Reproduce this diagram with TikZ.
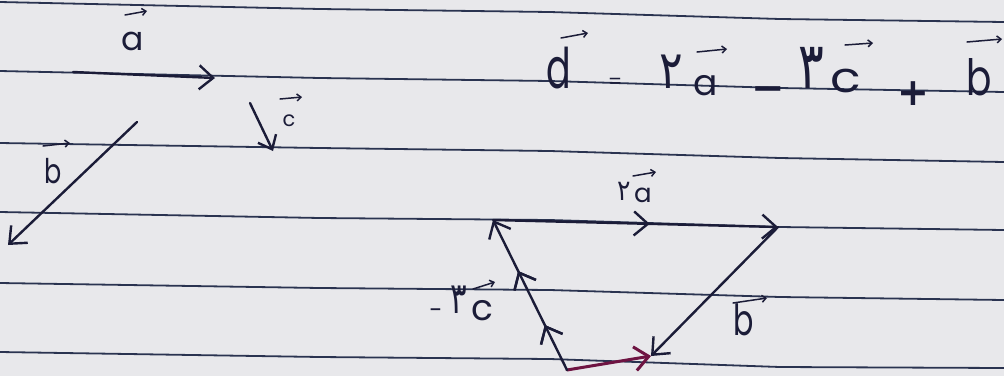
\documentclass[tikz,border=0pt]{standalone}
\usepackage{fontspec}
\usetikzlibrary{arrows.meta,decorations.markings}
\newfontfamily\hand{Poppins}
\newfontfamily\fadig[Script=Arabic]{DejaVu Sans}
\newfontfamily\djs{DejaVu Sans}
\newcommand\hsz[1]{\hand\fontsize{#1}{#1}\selectfont}
\newcommand\fsz[1]{\fadig\fontsize{#1}{#1}\selectfont}
\definecolor{paper}{HTML}{E8E8EB}
\definecolor{inkc}{HTML}{1B1C38}
\definecolor{rulec}{HTML}{2A3350}
\definecolor{redc}{HTML}{6E1442}
\tikzset{
  rule/.style={draw=rulec, line width=1.8pt, line join=round},
  ink/.style={draw=inkc, line width=2.4pt, line cap=round, line join=round},
  vecarr/.style={ink, -{Straight Barb[length=14pt,width=24pt]}},
  ovl/.style={draw=inkc, line width=1.5pt, line cap=round, -{Straight Barb[length=4pt,width=7pt]}},
  glyph/.style={anchor=base, inner sep=0pt, text=inkc},
  midhead/.style={postaction={decorate}, decoration={markings,
    mark=at position #1 with {\arrow{Straight Barb[length=14pt,width=24pt]}}}}
}
\begin{document}
\begin{tikzpicture}[x=1pt,y=-1pt]
\fill[paper] (0,0) rectangle (1004,376);
\useasboundingbox (0,0) rectangle (1004,376);
% ruled lines
\draw[rule] (0,2) -- (320,9) -- (550,12) -- (780,19) -- (1004,22);
\draw[rule] (0,71) -- (320,78) -- (550,81) -- (780,88) -- (1004,92);
\draw[rule] (0,143) -- (320,148) -- (550,151) -- (780,158) -- (1004,162);
\draw[rule] (0,212) -- (320,218) -- (550,220) -- (780,227) -- (1004,230);
\draw[rule] (0,283) -- (320,288) -- (550,290) -- (780,297) -- (1004,300);
\draw[rule] (0,352) -- (320,357) -- (550,359) -- (780,367) -- (1004,368);

% --- the three given vectors ---
\coordinate (a0) at (73,72);   \coordinate (a1) at (215,78);
\coordinate (b0) at (137,122); \coordinate (b1) at (8,245);
\coordinate (c0) at (250,103); \coordinate (c1) at (273,151);
\draw[vecarr] (a0) -- (a1);
\draw[vecarr] (b0) -- (b1);
\draw[ink, -{Straight Barb[length=12pt,width=20pt]}] (c0) -- (c1);

\node[glyph, font=\hsz{33}] (la) at (133,50) {a};
\coordinate (la0) at (125,15); \coordinate (la1) at (147,11);
\draw[ovl] (la0) -- (la1);
\node[glyph, font=\hsz{21}] (lc) at (289,126) {c};
\coordinate (lc0) at (280,99); \coordinate (lc1) at (302,97);
\draw[ovl] (lc0) -- (lc1);
\node[glyph, font=\hsz{34}] (lb) at (53,183) {\scalebox{0.75}[1]{b}};
\coordinate (lb0) at (43,146); \coordinate (lb1) at (70,143);
\draw[ovl] (lb0) -- (lb1);

% --- equation ---
\node[glyph, font=\hsz{56}] (ed) at (559,88) {\scalebox{0.65}[1]{d}};
\coordinate (ed0) at (561,38); \coordinate (ed1) at (588,33);
\draw[ovl] (ed0) -- (ed1);
\node[glyph, font=\hsz{20}] (eq) at (615,88) {=};
\node[glyph, font=\fsz{44}] (e2) at (671,88) {\scalebox{1}[1.2]{۲}};
\node[glyph, font=\hsz{36}] (ea) at (706,95) {a};
\coordinate (ea0) at (697,52); \coordinate (ea1) at (727,49);
\draw[ovl] (ea0) -- (ea1);
\node[glyph, font={\djs\bfseries\fontsize{40}{40}\selectfont}] (emin) at (768,101) {−};
\node[glyph, font=\fsz{48}] (e3) at (811,88) {\scalebox{1}[1.35]{۳}};
\node[glyph, font=\hsz{42}] (ec) at (846,92) {\scalebox{1.2}[1]{c}};
\coordinate (ec0) at (845,45); \coordinate (ec1) at (873,43);
\draw[ovl] (ec0) -- (ec1);
\node[glyph, font={\djs\bfseries\fontsize{38}{38}\selectfont}] (eplus) at (913,105) {+};
\node[glyph, font=\hsz{50}] (eb) at (979,95) {\scalebox{0.75}[1]{b}};
\coordinate (eb0) at (967,42); \coordinate (eb1) at (1002,39);
\draw[ovl] (eb0) -- (eb1);

% --- polygon ---
\coordinate (P1) at (493,220);
\coordinate (P2) at (778,227);
\coordinate (P3) at (651,356);
\coordinate (P4) at (567,370);
\draw[vecarr, midhead=0.55] (P1) -- (P2);
\draw[vecarr] (P2) -- (P3);
\draw[vecarr, draw=redc, line width=3pt] (P4) -- (P3);
\draw[vecarr, midhead=0.3, decoration={markings, mark=at position 0.66 with {\arrow{Straight Barb[length=14pt,width=24pt]}}}, postaction={decorate}] (P4) -- (P1);

\node[glyph, font=\fsz{25}] (t2) at (624,200) {\scalebox{1}[1.15]{۲}};
\node[glyph, font=\hsz{26}] (ta) at (643,202) {a};
\coordinate (ta0) at (633,176); \coordinate (ta1) at (656,172);
\draw[ovl] (ta0) -- (ta1);
\node[glyph, font=\hsz{24}] (tm) at (436,318) {-};
\node[glyph, font=\fsz{31}] (t3) at (459,313) {\scalebox{1}[1.4]{۳}};
\node[glyph, font=\hsz{36}] (tc) at (482,320) {c};
\coordinate (tc0) at (473,289); \coordinate (tc1) at (495,282);
\draw[ovl] (tc0) -- (tc1);
\node[glyph, font=\hsz{43}] (tb) at (744,335) {\scalebox{0.7}[1]{b}};
\coordinate (tb0) at (733,303); \coordinate (tb1) at (767,298);
\draw[ovl] (tb0) -- (tb1);
\end{tikzpicture}
\end{document}
